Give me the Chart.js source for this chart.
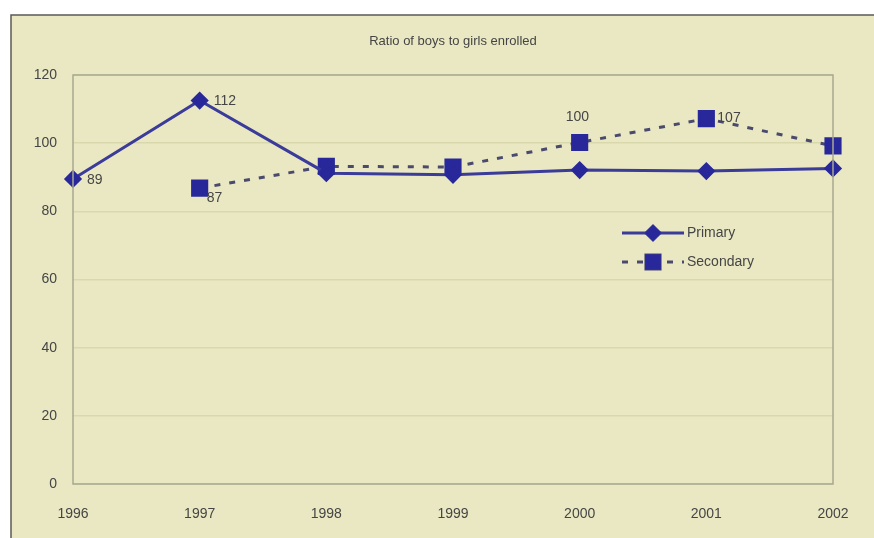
<!DOCTYPE html>
<html>
<head>
<meta charset="utf-8">
<script src="https://cdn.jsdelivr.net/npm/chart.js@4"></script>
<style>
  html, body { margin: 0; padding: 0; background: #fff; }
  #wrap { width: 874px; height: 538px; }
</style>
</head>
<body>
<div id="wrap"><canvas id="ratioChart" width="874" height="538"></canvas></div>
<script>
const years = ['1996', '1997', '1998', '1999', '2000', '2001', '2002'];
const primary = [89.5, 112.5, 91.2, 90.7, 92.1, 91.8, 92.6];
const secondary = [null, 86.8, 93.2, 93.0, 100.2, 107.2, 99.2];
// labels shown next to some points (null = no label)
const primaryLabels = ['89', '112', null, null, null, null, null];
const secondaryLabels = [null, '87', null, null, '100', '107', null];
const yTicks = [0, 20, 40, 60, 80, 100, 120];

const bg = '#eae8c2';
const textColor = '#454545';
const font = "'Liberation Sans', Arial, sans-serif";

const framePlugin = {
    id: 'frame',
    beforeDraw(chart) {
        const ctx = chart.ctx;
        ctx.save();
        ctx.fillStyle = '#ffffff';
        ctx.fillRect(0, 0, chart.width, chart.height);
        ctx.fillStyle = bg;
        ctx.fillRect(11, 15, chart.width, chart.height);
        ctx.strokeStyle = '#5a5a55';
        ctx.lineWidth = 1.5;
        ctx.strokeRect(11, 15, chart.width + 10, chart.height + 10);
        ctx.restore();
    },
    afterDraw(chart) {
        const ctx = chart.ctx;
        const a = chart.chartArea;
        ctx.save();
        // title
        ctx.fillStyle = textColor;
        ctx.font = "13px " + font;
        ctx.textAlign = 'center';
        ctx.textBaseline = 'middle';
        ctx.fillText('Ratio of boys to girls enrolled', (a.left + a.right) / 2, 41);

        // point labels
        ctx.font = "14px " + font;
        ctx.textAlign = 'left';
        const m0 = chart.getDatasetMeta(0).data;
        const m1 = chart.getDatasetMeta(1).data;
        primaryLabels.forEach((t, i) => {
            if (!t) return;
            ctx.fillText(t, m0[i].x + 14, m0[i].y + 1);
        });
        const off = { 1: [7, 10], 4: [-14, -25], 5: [11, 0] };
        secondaryLabels.forEach((t, i) => {
            if (!t) return;
            const o = off[i] || [10, 0];
            ctx.fillText(t, m1[i].x + o[0], m1[i].y + o[1]);
        });

        // legend inside the plot
        const lx = 622, ly = [233, 262];
        chart.data.datasets.forEach((ds, i) => {
            ctx.strokeStyle = ds.borderColor;
            ctx.lineWidth = ds.borderWidth;
            ctx.setLineDash(ds.borderDash || []);
            ctx.beginPath();
            ctx.moveTo(lx, ly[i]);
            ctx.lineTo(lx + 62, ly[i]);
            ctx.stroke();
            ctx.setLineDash([]);
            Chart.helpers.drawPoint(ctx, {
                pointStyle: ds.pointStyle,
                radius: ds.pointRadius,
                borderWidth: 1
            }, lx + 31, ly[i]);
            ctx.fillStyle = ds.pointBackgroundColor;
            ctx.strokeStyle = ds.pointBackgroundColor;
            Chart.helpers.drawPoint(ctx, {
                pointStyle: ds.pointStyle,
                radius: ds.pointRadius - 1,
                borderWidth: 1
            }, lx + 31, ly[i]);
            ctx.fillStyle = textColor;
            ctx.font = "14px " + font;
            ctx.textAlign = 'left';
            ctx.fillText(ds.label, lx + 65, ly[i]);
        });

        // plot border
        ctx.strokeStyle = '#a8a890';
        ctx.lineWidth = 1.5;
        ctx.strokeRect(a.left, a.top, a.right - a.left, a.bottom - a.top);
        ctx.restore();
    }
};

const ctx = document.getElementById('ratioChart');
new Chart(ctx, {
    type: 'line',
    data: {
        labels: years,
        datasets: [
            {
                label: 'Primary',
                data: primary,
                borderColor: '#3b3b9a',
                borderWidth: 3,
                pointStyle: 'rectRot',
                pointRadius: 7,
                pointBackgroundColor: '#28289a',
                pointBorderColor: '#28289a',
                tension: 0
            },
            {
                label: 'Secondary',
                data: secondary,
                borderColor: '#4a4a6e',
                borderWidth: 3,
                borderDash: [6, 9],
                pointStyle: 'rect',
                pointRadius: 10,
                pointBackgroundColor: '#28289a',
                pointBorderColor: '#28289a',
                spanGaps: false,
                tension: 0
            }
        ]
    },
    options: {
        responsive: false,
        animation: false,
        layout: { padding: { top: 75, right: 41, left: 0, bottom: 0 } },
        plugins: {
            legend: { display: false },
            title: { display: false },
            tooltip: { enabled: false }
        },
        scales: {
            x: {
                offset: false,
                grid: { display: false, drawTicks: false },
                border: { display: false },
                ticks: { color: textColor, font: { size: 14, family: font }, padding: 22, maxRotation: 0 },
                afterFit: (s) => { s.height = 54; }
            },
            y: {
                min: 0,
                max: 120,
                afterBuildTicks: (s) => { s.ticks = yTicks.map(v => ({ value: v })); },
                grid: { color: '#d9d8ad', lineWidth: 1.5, drawTicks: false },
                border: { display: false },
                ticks: { color: textColor, font: { size: 14, family: font }, padding: 16 },
                afterFit: (s) => { s.width = 73; }
            }
        }
    },
    plugins: [framePlugin]
});
</script>
</body>
</html>
